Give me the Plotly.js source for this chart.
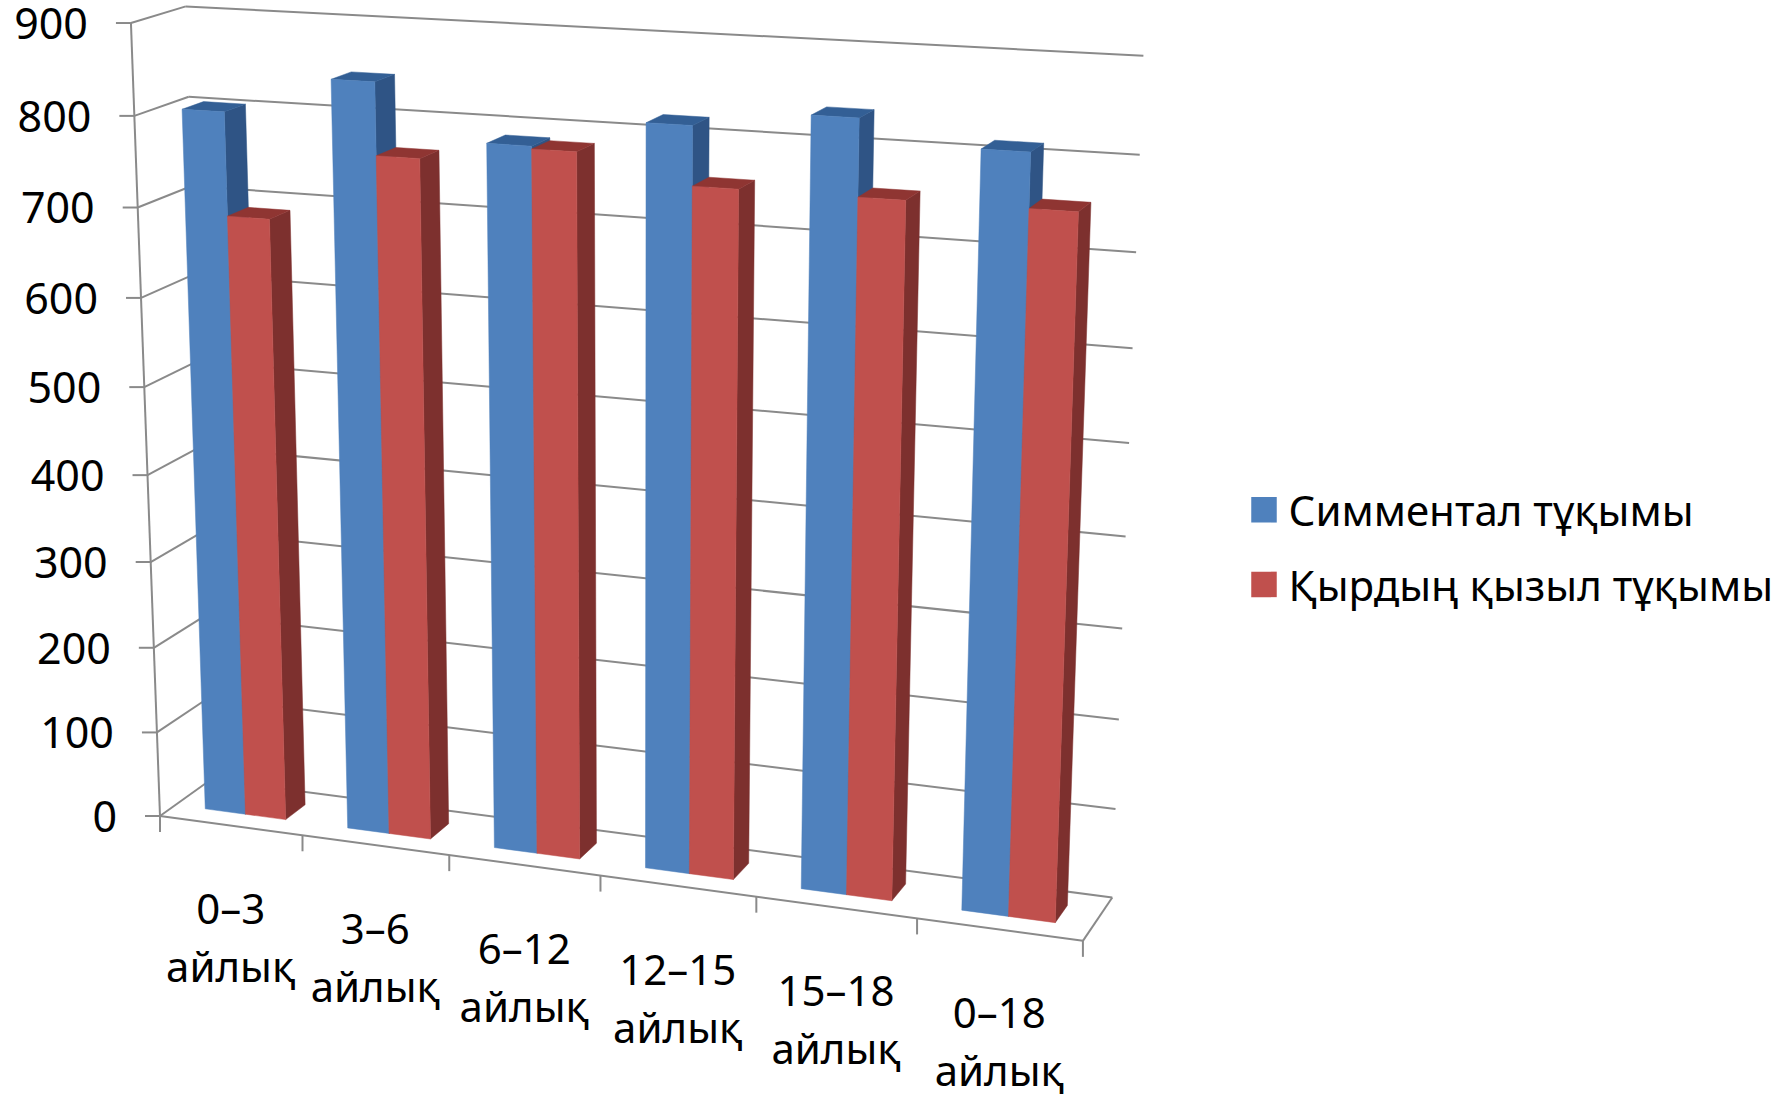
<!DOCTYPE html>
<html>
<head>
<meta charset="utf-8">
<script src="https://cdn.plot.ly/plotly-3.0.1.min.js"></script>
<style>html,body{margin:0;padding:0;background:#fff;overflow:hidden}#chart{width:1781px;height:1094px}</style>
</head>
<body>
<div id="chart"></div>
<script>
// ---- data ----
const ageRanges = ['0–3', '3–6', '6–12', '12–15', '15–18', '0–18'];
const unitWord = 'айлық';
const seriesNames = ['Симментал тұқымы', 'Қырдың қызыл тұқымы'];
const simmentalValues = [803, 845, 787, 819, 837, 813];
const kyrdynValues = [689, 766, 784, 756, 756, 756];
const valueTicks = [0, 100, 200, 300, 400, 500, 600, 700, 800, 900];
const valueMax = 900;

// ---- colours ----
const blueFaces = {front: '#4F81BD', side: '#2F5485', top: '#335F95'};
const redFaces = {front: '#C0504D', side: '#7D302E', top: '#8F3532'};
const gridColor = '#8A8A8A';
const FONT = '"Noto Sans", "Open Sans", sans-serif';

// ---- perspective view of the chart box (u along categories, v depth, t height; each 0..1) ----
const viewX = [828.7, 56.67, -36.6, 160];
const viewY = [43, -15.5, -794.3, 816];
const viewW = [-0.087, 0.02686, -0.0576, 1];
function project(u, v, t) {
  const w = viewW[0]*u + viewW[1]*v + viewW[2]*t + viewW[3];
  return [(viewX[0]*u + viewX[1]*v + viewX[2]*t + viewX[3]) / w,
          (viewY[0]*u + viewY[1]*v + viewY[2]*t + viewY[3]) / w];
}

const n = ageRanges.length;
const depthFront = 0.3, depthBack = 0.7;
const barSlots = [[0.212, 0.497], [0.497, 0.78]];

function polygons(list) {
  const xs = [], ys = [];
  list.forEach(poly => {
    poly.forEach(p => { const q = project(p[0], p[1], p[2]); xs.push(q[0]); ys.push(q[1]); });
    const q0 = project(poly[0][0], poly[0][1], poly[0][2]);
    xs.push(q0[0], null); ys.push(q0[1], null);
  });
  return {x: xs, y: ys};
}
function faceTrace(list, color) {
  const g = polygons(list);
  return {x: g.x, y: g.y, type: 'scatter', mode: 'lines', fill: 'toself', fillcolor: color,
          line: {color: color, width: 0.5}, hoverinfo: 'skip', showlegend: false};
}
function seriesTraces(values, slot, faces) {
  const fronts = [], sides = [], tops = [];
  values.forEach((val, i) => {
    const u0 = (i + slot[0]) / n, u1 = (i + slot[1]) / n, t = val / valueMax;
    const a = depthFront, b = depthBack;
    fronts.push([[u0,a,0],[u1,a,0],[u1,a,t],[u0,a,t]]);
    sides.push([[u1,a,0],[u1,b,0],[u1,b,t],[u1,a,t]]);
    tops.push([[u0,a,t],[u1,a,t],[u1,b,t],[u0,b,t]]);
  });
  return [faceTrace(sides, faces.side), faceTrace(tops, faces.top), faceTrace(fronts, faces.front)];
}

// grid lines, walls, floor and tick marks
const gx = [], gy = [];
function seg(a, b) { gx.push(a[0], b[0], null); gy.push(a[1], b[1], null); }
valueTicks.forEach(v => {
  const t = v / valueMax;
  const f = project(0, 0, t);
  seg(f, project(0, 1, t));
  seg(project(0, 1, t), project(1, 1, t));
  seg([f[0] - 15, f[1]], f);
});
seg(project(0, 0, 0), project(0, 0, 1));
seg(project(0, 0, 0), project(1, 0, 0));
seg(project(1, 0, 0), project(1, 1, 0));
for (let k = 0; k <= n; k++) {
  const p = project(k / n, 0, 0);
  seg(p, [p[0], p[1] + 16]);
}
const gridTrace = {x: gx, y: gy, type: 'scatter', mode: 'lines', line: {color: gridColor, width: 2},
                   hoverinfo: 'skip', showlegend: false};

// value tick labels
const valuePts = valueTicks.map(v => project(0, 0, v / valueMax));
const valueLabelTrace = {
  x: valuePts.map(p => p[0] - 43), y: valuePts.map(p => p[1] + 5),
  text: valueTicks.map(String), type: 'scatter', mode: 'text', textposition: 'middle left',
  textfont: {family: FONT, size: 43, color: '#000'}, hoverinfo: 'skip', showlegend: false, cliponaxis: false
};
// category labels (two lines)
const catPts = ageRanges.map((_, i) => project((i + 0.5) / n, 0, 0));
const catLine1 = {
  x: catPts.map(p => p[0]), y: catPts.map(p => p[1] + 88), text: ageRanges,
  type: 'scatter', mode: 'text', textposition: 'middle center',
  textfont: {family: FONT, size: 42, color: '#000'}, hoverinfo: 'skip', showlegend: false, cliponaxis: false
};
const catLine2 = {
  x: catPts.map(p => p[0]), y: catPts.map(p => p[1] + 146), text: ageRanges.map(() => unitWord),
  type: 'scatter', mode: 'text', textposition: 'middle center',
  textfont: {family: FONT, size: 42, color: '#000'}, hoverinfo: 'skip', showlegend: false, cliponaxis: false
};

// legend entries
function legendTrace(name, color, group) {
  return {x: [null], y: [null], type: 'scatter', mode: 'markers', name: name, legendgroup: group,
          marker: {symbol: 'square', size: 16, color: color}, hoverinfo: 'skip'};
}

const traces = [gridTrace]
  .concat(seriesTraces(simmentalValues, barSlots[0], blueFaces))
  .concat(seriesTraces(kyrdynValues, barSlots[1], redFaces))
  .concat([valueLabelTrace, catLine1, catLine2,
           legendTrace(seriesNames[0], blueFaces.front, 'a'),
           legendTrace(seriesNames[1], redFaces.front, 'b')]);

const hiddenAxis = {visible: false, showgrid: false, zeroline: false, fixedrange: true};
const layout = {
  width: 1781, height: 1094,
  margin: {l: 0, r: 0, t: 0, b: 0},
  paper_bgcolor: '#fff', plot_bgcolor: '#fff',
  xaxis: Object.assign({range: [0, 1781]}, hiddenAxis),
  yaxis: Object.assign({range: [1094, 0]}, hiddenAxis),
  showlegend: true,
  legend: {x: 1239.5 / 1781, xanchor: 'left', y: 1 - 476 / 1094, yanchor: 'top', itemwidth: 39,
           font: {family: FONT, size: 42, color: '#000'}, bgcolor: 'rgba(0,0,0,0)',
           traceorder: 'grouped', tracegroupgap: 17, itemclick: false, itemdoubleclick: false}
};
Plotly.newPlot('chart', traces, layout, {displayModeBar: false, responsive: false}).then(() => {
  document.querySelectorAll('#chart .legend .legendpoints path').forEach(p => {
    p.setAttribute('d', 'M12.75,12.75H-12.75V-12.75H12.75Z');
  });
});
</script>
</body>
</html>
